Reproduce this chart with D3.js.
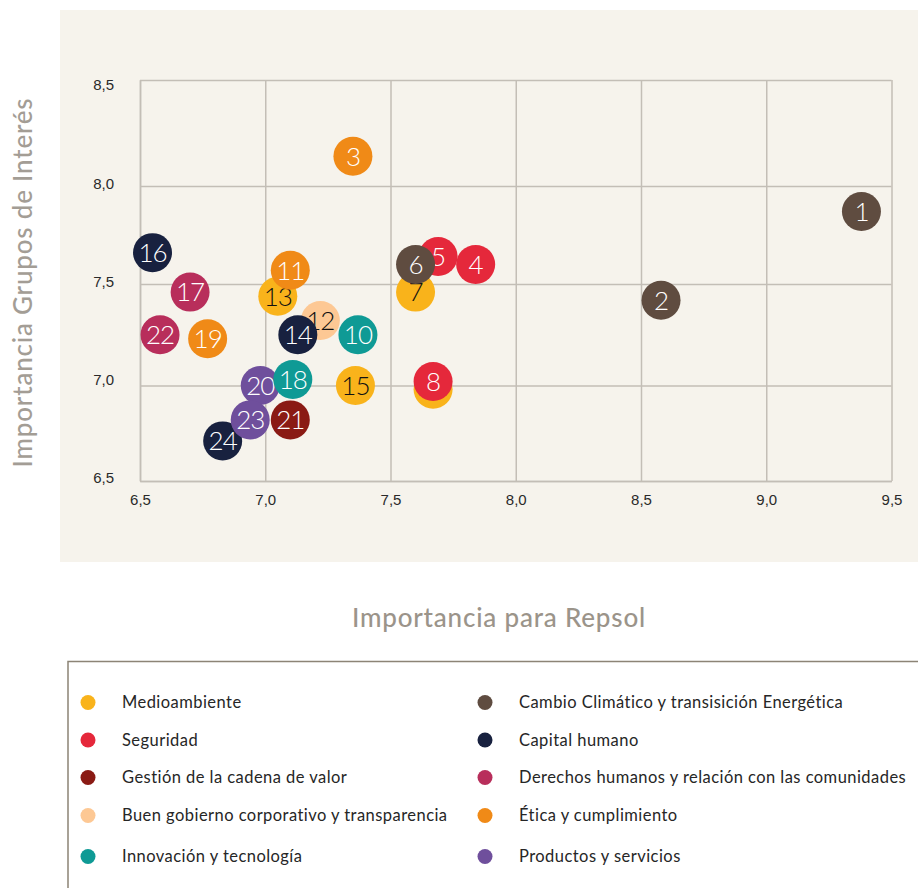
<!DOCTYPE html>
<html>
<head>
<meta charset="utf-8">
<script src="https://cdn.jsdelivr.net/npm/d3@7"></script>
<style>
  html, body { margin: 0; padding: 0; background: #ffffff; }
  svg { display: block; font-family: Lato, "Noto Sans", sans-serif; }
</style>
</head>
<body>
<svg id="chart" width="918" height="888"></svg>
<script>
// Materiality matrix: importance for Repsol (x) vs importance for stakeholders (y)

// Categories (legend order: left column then right column)
const categories = [
  "Medioambiente",
  "Seguridad",
  "Gestión de la cadena de valor",
  "Buen gobierno corporativo y transparencia",
  "Innovación y tecnología",
  "Cambio Climático y transisición Energética",
  "Capital humano",
  "Derechos humanos y relación con las comunidades",
  "Ética y cumplimiento",
  "Productos y servicios"
];
const categoryColors = [
  "#f9b31b", "#e5283b", "#8a1a14", "#fdc894", "#0f9a95",
  "#5f4c40", "#18213f", "#b82e5b", "#f08a17", "#6f4f9c"
];
// Categories whose bubble number is written in dark ink
const darkLabelCategories = ["Medioambiente", "Buen gobierno corporativo y transparencia"];

// Issues, listed in drawing order (later ones sit on top)
const issueIds = [9, 8, 7, 5, 4, 6, 13, 11, 12, 14, 10, 15, 24, 20, 18, 23, 21, 16, 17, 22, 19, 1, 2, 3];
const importanceRepsol = [7.67, 7.67, 7.60, 7.69, 7.84, 7.60, 7.05, 7.10, 7.22, 7.13, 7.37, 7.36, 6.83, 6.98, 7.11, 6.94, 7.10, 6.55, 6.70, 6.58, 6.77, 9.38, 8.58, 7.35];
const importanceStakeholders = [6.98, 7.02, 7.46, 7.64, 7.60, 7.60, 7.44, 7.57, 7.32, 7.25, 7.25, 7.00, 6.71, 7.00, 7.03, 6.82, 6.82, 7.66, 7.46, 7.25, 7.23, 7.87, 7.42, 8.14];
const issueCategory = [
  "Medioambiente", "Seguridad", "Medioambiente", "Seguridad", "Seguridad",
  "Cambio Climático y transisición Energética", "Medioambiente", "Ética y cumplimiento",
  "Buen gobierno corporativo y transparencia", "Capital humano", "Innovación y tecnología",
  "Medioambiente", "Capital humano", "Productos y servicios", "Innovación y tecnología",
  "Productos y servicios", "Gestión de la cadena de valor", "Capital humano",
  "Derechos humanos y relación con las comunidades", "Derechos humanos y relación con las comunidades",
  "Ética y cumplimiento", "Cambio Climático y transisición Energética",
  "Cambio Climático y transisición Energética", "Ética y cumplimiento"
];

// Axis ticks and titles
const xTicks = [6.5, 7.0, 7.5, 8.0, 8.5, 9.0, 9.5];
const yTicks = [6.5, 7.0, 7.5, 8.0, 8.5];
const xTitle = "Importancia para Repsol";
const yTitle = "Importancia Grupos de Interés";

const svg = d3.select("#chart");
const color = d3.scaleOrdinal().domain(categories).range(categoryColors);
const locale = d3.formatLocale({ decimal: ",", thousands: ".", grouping: [3], currency: ["", " €"] });
const fmt = locale.format(".1f");

// Chart panel background
svg.append("rect")
  .attr("x", 60).attr("y", 10).attr("width", 858).attr("height", 552)
  .attr("fill", "#f6f3ec");

const plot = { left: 140, right: 891.5, top: 80, bottom: 481 };

const x = d3.scaleLinear().domain([6.5, 9.5]).range([plot.left, plot.right]);
// Grid rows as laid out in the printed matrix (slightly uneven spacing)
const y = d3.scaleLinear().domain([6.5, 7.0, 7.5, 8.0, 8.5]).range([481, 385.5, 284, 186, 80]);
// Tick labels of the vertical axis sit on an evenly spaced column
const yLabel = d3.scaleLinear().domain([6.5, 8.5]).range([478, 85]);

const gridColor = "#c3beb6";

// X axis with vertical grid lines
const gx = svg.append("g")
  .attr("transform", `translate(0,${plot.bottom})`)
  .call(d3.axisBottom(x).tickValues(xTicks).tickFormat(fmt)
    .tickSizeInner(-(plot.bottom - plot.top)).tickSizeOuter(0).tickPadding(13));
gx.select(".domain").attr("stroke", gridColor).attr("stroke-width", 1.5);
gx.selectAll(".tick line").attr("stroke", gridColor).attr("stroke-width", 1.5);
gx.selectAll(".tick text").attr("fill", "#2a2a2a").attr("font-size", 15);

// Y axis: horizontal grid lines
const gy = svg.append("g")
  .attr("transform", `translate(${plot.left},0)`)
  .call(d3.axisLeft(y).tickValues(yTicks).tickFormat("")
    .tickSizeInner(-(plot.right - plot.left)).tickSizeOuter(0));
gy.select(".domain").attr("stroke", gridColor).attr("stroke-width", 1.5);
gy.selectAll(".tick line").attr("stroke", gridColor).attr("stroke-width", 1.5);

// Y axis: tick labels
const gyl = svg.append("g")
  .attr("transform", `translate(${plot.left},0)`)
  .call(d3.axisLeft(yLabel).tickValues(yTicks).tickFormat(fmt)
    .tickSize(0).tickPadding(26));
gyl.select(".domain").remove();
gyl.selectAll(".tick text").attr("fill", "#2a2a2a").attr("font-size", 15);

// Axis titles
svg.append("text")
  .attr("x", 499).attr("y", 627)
  .attr("text-anchor", "middle")
  .attr("fill", "#9b948a").attr("font-size", 26).attr("font-weight", 500)
  .attr("letter-spacing", 0.8)
  .text(xTitle);

svg.append("text")
  .attr("transform", "translate(32,282.5) rotate(-90)")
  .attr("text-anchor", "middle")
  .attr("fill", "#a39d95").attr("font-size", 26).attr("font-weight", 500)
  .attr("letter-spacing", 0.8)
  .text(yTitle);

// Bubbles
const issues = issueIds.map((id, i) => ({
  id, xv: importanceRepsol[i], yv: importanceStakeholders[i], cat: issueCategory[i]
}));

const bubble = svg.append("g").selectAll("g")
  .data(issues).join("g")
  .attr("transform", d => `translate(${x(d.xv)},${y(d.yv)})`);

bubble.append("circle")
  .attr("r", 19.5)
  .attr("fill", d => color(d.cat));

bubble.append("text")
  .attr("text-anchor", "middle")
  .attr("dy", "0.36em")
  .attr("font-size", 26)
  .attr("font-weight", 300)
  .attr("letter-spacing", -1)
  .attr("fill", d => darkLabelCategories.includes(d.cat) ? "#111" : "#fff")
  .text(d => d.id);

// Legend box
svg.append("path")
  .attr("d", "M68,888 V661.5 H918")
  .attr("fill", "none").attr("stroke", "#8c8476").attr("stroke-width", 1.5);

const legendRows = [702.5, 740, 777.5, 815.5, 856.5];
const legend = svg.append("g").selectAll("g")
  .data(categories).join("g")
  .attr("transform", (d, i) => `translate(${i < 5 ? 88 : 485},${legendRows[i % 5]})`);

legend.append("circle").attr("r", 7.5).attr("fill", d => color(d));
legend.append("text")
  .attr("x", 34).attr("dy", "0.35em")
  .attr("font-size", 16.5).attr("fill", "#262626")
  .attr("letter-spacing", 0.45)
  .text(d => d);
</script>
</body>
</html>
